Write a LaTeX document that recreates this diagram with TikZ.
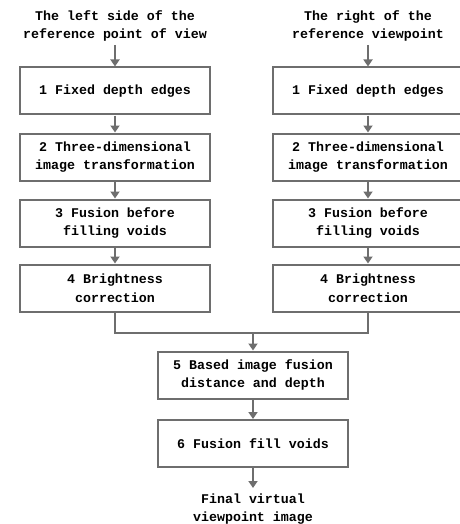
\documentclass[tikz,border=0pt]{standalone}
\usepackage{fontspec}
\setmainfont{Liberation Mono}
\usetikzlibrary{arrows.meta}
\definecolor{lineg}{RGB}{110,110,110}
\tikzset{
  stepbox/.style={draw=lineg, line width=2pt, minimum width=190pt, minimum height=47pt, align=center, inner sep=0pt,
    font=\fontsize{13.3}{18.5}\selectfont\bfseries},
  label/.style={align=center, inner sep=0pt, font=\fontsize{13.3}{18.5}\selectfont\bfseries},
  arr/.style={draw=lineg, line width=2pt, -{Triangle[length=7pt,width=9pt]}},
  ln/.style={draw=lineg, line width=2pt}
}
\begin{document}
\begin{tikzpicture}[x=1pt,y=-1pt]
\useasboundingbox (0,0) rectangle (459,524);
% titles
\node[label] (tl) at (115,26) {The left side of the\\reference point of view};
\node[label] (tr) at (368,26) {The right of the\\reference viewpoint};
% left column
\node[stepbox] (l1) at (115,91) {1 Fixed depth edges};
\node[stepbox] (l2) at (115,157) {2 Three-dimensional\\image transformation};
\node[stepbox] (l3) at (115,223) {3 Fusion before\\filling voids};
\node[stepbox] (l4) at (115,288) {4 Brightness\\correction};
% right column
\node[stepbox] (r1) at (368,91) {1 Fixed depth edges};
\node[stepbox] (r2) at (368,157) {2 Three-dimensional\\image transformation};
\node[stepbox] (r3) at (368,223) {3 Fusion before\\filling voids};
\node[stepbox] (r4) at (368,288) {4 Brightness\\correction};
% merged
\node[stepbox] (m5) at (253,375) {5 Based image fusion\\distance and depth};
\node[stepbox] (m6) at (253,443.5) {6 Fusion fill voids};
\node[label] (fin) at (253,509) {Final virtual\\viewpoint image};
\coordinate (jl) at (115,333);
\coordinate (jr) at (368,333);
\coordinate (jm) at (253,333);
% arrows
\draw[arr] (tl.south |- 0,45) -- (l1);
\draw[arr] (tr.south |- 0,45) -- (r1);
\draw[arr] (l1) -- (l2);
\draw[arr] (l2) -- (l3);
\draw[arr] (l3) -- (l4);
\draw[arr] (r1) -- (r2);
\draw[arr] (r2) -- (r3);
\draw[arr] (r3) -- (r4);
\draw[ln] (l4.south) -- (jl) -- (jr) -- (r4.south);
\draw[arr] (jm) -- (m5);
\draw[arr] (m5) -- (m6);
\draw[arr] (m6) -- (fin.north |- 0,488);
\end{tikzpicture}
\end{document}
